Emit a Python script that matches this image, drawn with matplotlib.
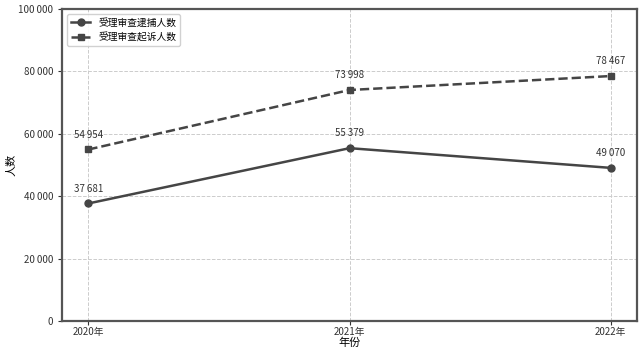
import matplotlib
matplotlib.use("Agg")
import matplotlib.pyplot as plt
from matplotlib.ticker import FuncFormatter

plt.rcParams['font.family'] = ['Noto Sans CJK SC', 'DejaVu Sans']

years = ['2020年', '2021年', '2022年']
arrest = [37681, 55379, 49070]
prosecute = [54954, 73998, 78467]
series_names = ['受理审查逮捕人数', '受理审查起诉人数']

fig = plt.figure(figsize=(6.42, 3.51), dpi=100)
ax = fig.add_axes([0.097, 0.085, 0.895, 0.89])
x = list(range(len(years)))
c = '#454545'
ax.plot(x, arrest, '-', marker='o', color=c, lw=1.8, ms=5, label=series_names[0])
ax.plot(x, prosecute, '--', marker='s', color=c, lw=1.8, ms=5, label=series_names[1])

def fmt(v):
    return f"{int(v):,}".replace(',', '\u2009')

for xi, v in zip(x, arrest):
    ax.annotate(fmt(v), (xi, v), xytext=(0, 7), textcoords='offset points', ha='center', va='bottom', fontsize=7, color='#333333')
for xi, v in zip(x, prosecute):
    ax.annotate(fmt(v), (xi, v), xytext=(0, 7), textcoords='offset points', ha='center', va='bottom', fontsize=7, color='#333333')

ax.set_ylim(0, 100000)
ax.set_yticks(range(0, 100001, 20000))
ax.yaxis.set_major_formatter(FuncFormatter(lambda v, p: fmt(v)))
ax.set_xticks(x)
ax.set_xticklabels(years)
ax.tick_params(labelsize=7, colors='#333333', length=3)
ax.tick_params(axis='x', pad=1.5)
ax.set_xlabel('年份', fontsize=8, labelpad=0)
ax.set_ylabel('人数', fontsize=8, labelpad=1)
ax.grid(True, ls='--', color='#cccccc', lw=0.7)
for s in ax.spines.values():
    s.set_color('#555555')
    s.set_linewidth(1.6)
ax.legend(loc='upper left', fontsize=7, frameon=True, framealpha=0.9, edgecolor='#cccccc')
fig.savefig('out.png', dpi=100)
